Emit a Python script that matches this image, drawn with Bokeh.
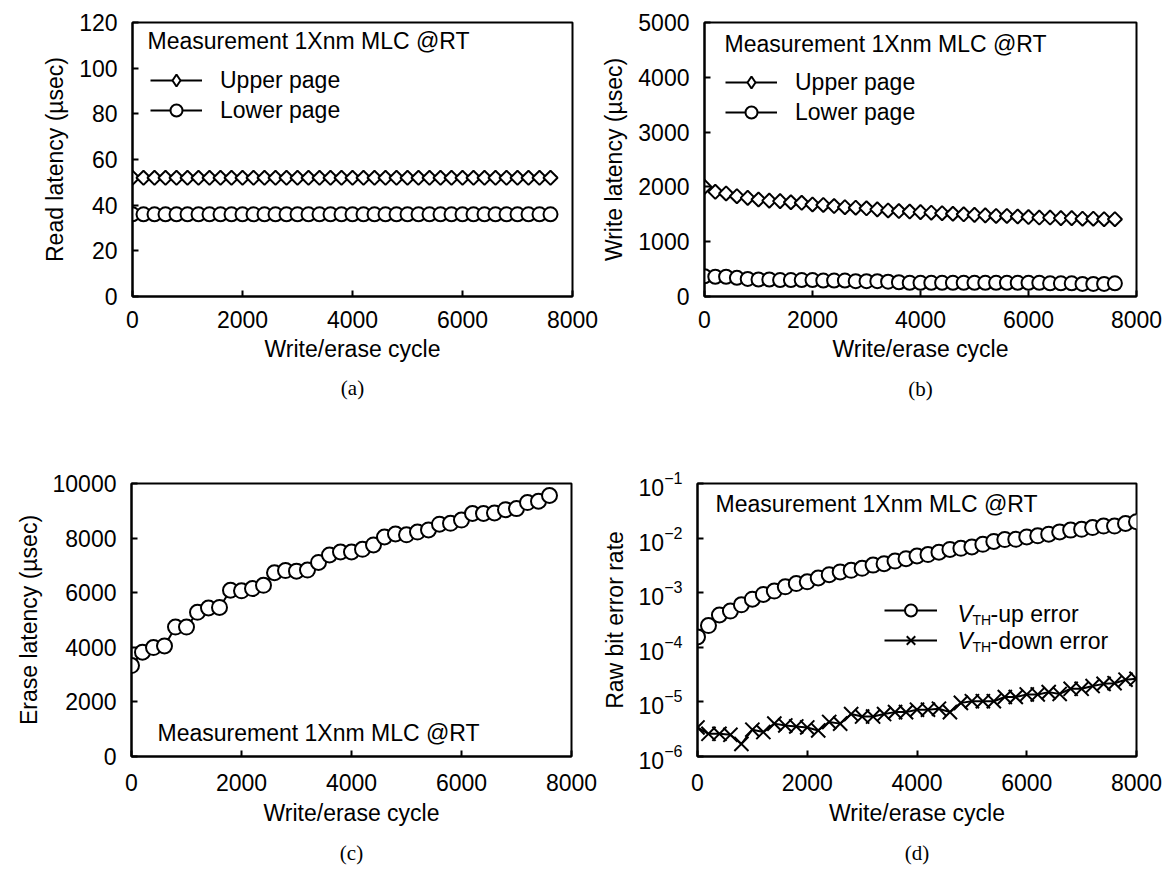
import math
from bokeh.plotting import figure
from bokeh.layouts import row, column
from bokeh.models import Range1d, FixedTicker, Label, Legend, LegendItem, Title
from bokeh.embed import file_html
from bokeh.resources import INLINE

FONT = "Liberation Sans"
SERIF = "Liberation Serif"
FS = "23px"

# ---------------- data ----------------
cycles = [0, 200, 400, 600, 800, 1000, 1200, 1400, 1600, 1800, 2000, 2200, 2400, 2600,
          2800, 3000, 3200, 3400, 3600, 3800, 4000, 4200, 4400, 4600, 4800, 5000, 5200,
          5400, 5600, 5800, 6000, 6200, 6400, 6600, 6800, 7000, 7200, 7400, 7600]
cycles_d = cycles + [7800, 8000]
x_ticks = [0, 2000, 4000, 6000, 8000]

read_upper = [52, 52, 52, 52, 52, 52, 52, 52, 52, 52, 52, 52, 52, 52, 52, 52, 52, 52, 52, 52,
              52, 52, 52, 52, 52, 52, 52, 52, 52, 52, 52, 52, 52, 52, 52, 52, 52, 52, 52]
read_lower = [36, 36, 36, 36, 36, 36, 36, 36, 36, 36, 36, 36, 36, 36, 36, 36, 36, 36, 36, 36,
              36, 36, 36, 36, 36, 36, 36, 36, 36, 36, 36, 36, 36, 36, 36, 36, 36, 36, 36]
read_ticks = [0, 20, 40, 60, 80, 100, 120]

write_upper = [2000, 1910, 1880, 1830, 1800, 1770, 1750, 1740, 1720, 1710, 1680, 1670, 1650,
               1630, 1620, 1610, 1590, 1570, 1560, 1550, 1540, 1530, 1520, 1510, 1500, 1490,
               1480, 1470, 1470, 1460, 1450, 1440, 1440, 1430, 1430, 1420, 1420, 1410, 1410]
write_lower = [370, 360, 360, 340, 320, 310, 310, 300, 300, 300, 300, 290, 290, 290, 280, 280,
               280, 270, 260, 250, 250, 250, 250, 250, 250, 250, 250, 250, 250, 250, 250, 250,
               240, 240, 240, 230, 230, 230, 240]
write_ticks = [0, 1000, 2000, 3000, 4000, 5000]

erase_lat = [3330, 3820, 3990, 4050, 4740, 4740, 5280, 5440, 5460, 6090, 6070, 6150, 6270,
             6730, 6810, 6790, 6830, 7110, 7380, 7490, 7490, 7590, 7750, 8040, 8150, 8120,
             8220, 8300, 8510, 8540, 8660, 8900, 8900, 8920, 9040, 9080, 9300, 9350, 9560]
erase_ticks = [0, 2000, 4000, 6000, 8000, 10000]

vth_up = [1.55e-4, 2.5e-4, 3.9e-4, 4.6e-4, 6.0e-4, 7.6e-4, 9.3e-4, 1.07e-3, 1.28e-3, 1.47e-3,
          1.58e-3, 1.86e-3, 2.14e-3, 2.4e-3, 2.57e-3, 2.8e-3, 3.2e-3, 3.4e-3, 3.8e-3, 4.2e-3,
          4.7e-3, 5.0e-3, 5.5e-3, 6.2e-3, 6.5e-3, 6.9e-3, 7.7e-3, 8.7e-3, 9.4e-3, 9.5e-3,
          1.05e-2, 1.1e-2, 1.18e-2, 1.3e-2, 1.4e-2, 1.45e-2, 1.56e-2, 1.66e-2, 1.66e-2,
          1.85e-2, 2.0e-2]
vth_down = [3.4e-6, 2.6e-6, 2.6e-6, 2.5e-6, 1.7e-6, 3.1e-6, 2.8e-6, 4.0e-6, 3.7e-6, 3.55e-6,
            3.4e-6, 3.0e-6, 4.3e-6, 4.0e-6, 6.0e-6, 5.4e-6, 5.4e-6, 6.0e-6, 6.5e-6, 6.5e-6,
            7.2e-6, 7.2e-6, 7.5e-6, 6.5e-6, 9.6e-6, 1.03e-5, 1.03e-5, 1.03e-5, 1.23e-5, 1.23e-5,
            1.37e-5, 1.37e-5, 1.51e-5, 1.4e-5, 1.74e-5, 1.74e-5, 1.95e-5, 2.14e-5, 2.2e-5,
            2.55e-5, 2.65e-5]
ber_ticks = [1e-6, 1e-5, 1e-4, 1e-3, 1e-2, 1e-1]

note_text = "Measurement 1Xnm MLC @RT"
NAN = float("nan")


def make_fig(w, h, bl, br, bt, bb, y_range, y_ticks, y_label, y_type="linear",
             xl_standoff=14, xa_standoff=5):
    p = figure(width=w, height=h, output_backend="svg", toolbar_location=None,
               x_range=Range1d(0, 8000), y_range=y_range, y_axis_type=y_type,
               min_border_left=bl, min_border_right=br, min_border_top=bt,
               min_border_bottom=bb, title=None)
    p.xgrid.visible = False
    p.ygrid.visible = False
    p.outline_line_color = "black"
    p.outline_line_width = 2
    p.outline_line_alpha = 1
    p.background_fill_color = "white"
    p.border_fill_color = "white"
    for ax in (p.xaxis[0], p.yaxis[0]):
        ax.axis_line_width = 2
        ax.axis_line_color = "black"
        ax.major_tick_in = 6
        ax.major_tick_out = 0
        ax.major_tick_line_width = 2
        ax.major_tick_line_color = "black"
        ax.minor_tick_line_color = None
        ax.major_label_text_font = FONT
        ax.major_label_text_font_size = FS
        ax.major_label_text_color = "black"
        ax.axis_label_text_font = FONT
        ax.axis_label_text_font_size = FS
        ax.axis_label_text_font_style = "normal"
        ax.axis_label_text_color = "black"
    p.xaxis.ticker = FixedTicker(ticks=x_ticks)
    p.yaxis.ticker = FixedTicker(ticks=y_ticks)
    p.xaxis.axis_label = "Write/erase cycle"
    p.yaxis.axis_label = y_label
    p.xaxis.major_label_standoff = xl_standoff
    p.xaxis.axis_label_standoff = xa_standoff
    p.yaxis.major_label_standoff = 15
    p.yaxis.axis_label_standoff = 8
    return p


def series(p, x, y, marker, size, angle=0.0):
    lr = p.line(x, y, line_color="black", line_width=2)
    sr = p.scatter(x, y, marker=marker, size=size, angle=angle, fill_color="white",
                   line_color="black", line_width=2)
    return [lr, sr]


def diamond_proxy(p):
    # legend-only glyph (draws nothing in the plot area)
    return p.scatter([NAN], [NAN], marker="diamond", size=15, fill_color="white",
                     line_color="black", line_width=2)


def note(p, x, y):
    p.add_layout(Label(x=x, y=y, x_units="screen", y_units="screen", text=note_text,
                       text_font=FONT, text_font_size=FS, text_color="black",
                       text_baseline="middle", text_align="left"))


def caption(p, txt, standoff):
    p.add_layout(Title(text=txt, align="center", standoff=standoff, text_font=SERIF,
                       text_font_size="21px", text_font_style="normal",
                       text_color="black"), "below")


def legend(p, items, loc, gh, spacing, gw=52, standoff=18):
    lg = Legend(items=items, location=loc, orientation="vertical", padding=0, margin=0,
                spacing=spacing, glyph_width=gw, glyph_height=gh, label_standoff=standoff,
                label_height=gh, label_text_font=FONT, label_text_font_size=FS,
                label_text_color="black", border_line_color=None,
                background_fill_alpha=0)
    p.add_layout(lg)


DIAMOND = math.pi / 4

# ---------------- (a) read latency ----------------
fa = make_fig(598, 440, 132, 26, 22, 141, Range1d(0, 120), read_ticks, "Read latency (µsec)")
ra_u = series(fa, cycles, read_upper, "square", 10, DIAMOND)
ra_l = series(fa, cycles, read_lower, "circle", 14)
legend(fa, [LegendItem(label="Upper page", renderers=[ra_u[0], diamond_proxy(fa)]),
            LegendItem(label="Lower page", renderers=ra_l)], (18, 171), 30, -5)
note(fa, 15, 256)
caption(fa, "(a)", 18)

# ---------------- (b) write latency ----------------
fb = make_fig(571, 440, 99, 33, 21, 144, Range1d(0, 5000), write_ticks, "Write latency (µsec)")
rb_u = series(fb, cycles, write_upper, "square", 10, DIAMOND)
rb_l = series(fb, cycles, write_lower, "circle", 14)
legend(fb, [LegendItem(label="Upper page", renderers=[rb_u[0], diamond_proxy(fb)]),
            LegendItem(label="Lower page", renderers=rb_l)], (21, 169), 30, -6)
note(fb, 20, 253)
caption(fb, "(b)", 21)

# ---------------- (c) erase latency ----------------
fc = make_fig(598, 443, 131, 27, 42, 121, Range1d(0, 10000), erase_ticks, "Erase latency (µsec)",
              xl_standoff=17, xa_standoff=6)
series(fc, cycles, erase_lat, "circle", 15)
note(fc, 26, 24)
caption(fc, "(c)", 20)

# ---------------- (d) raw bit error rate ----------------
fd = make_fig(571, 443, 99, 33, 43, 127, Range1d(1e-6, 1e-1), ber_ticks, "Raw bit error rate",
              y_type="log", xl_standoff=17, xa_standoff=6)
rd_u = series(fd, cycles_d, vth_up, "circle", 15)
rd_d = series(fd, cycles_d, vth_down, "x", 20)
legend(fd, [LegendItem(label=" ", renderers=rd_u),
            LegendItem(label=" ", renderers=rd_d)], (187, 101), 30, -3, 53, 4)
note(fd, 18, 253)
caption(fd, "(d)", 20)

# legend texts with subscript (V_TH)
for yy, tail in ((143, "-up error"), (116, "-down error")):
    fd.add_layout(Label(x=260, y=yy, x_units="screen", y_units="screen", text="V",
                        text_font=FONT, text_font_size=FS, text_font_style="italic",
                        text_color="black", text_baseline="middle"))
    fd.add_layout(Label(x=275, y=yy - 6, x_units="screen", y_units="screen", text="TH",
                        text_font=FONT, text_font_size="14px", text_color="black",
                        text_baseline="middle"))
    fd.add_layout(Label(x=293, y=yy, x_units="screen", y_units="screen", text=tail,
                        text_font=FONT, text_font_size=FS, text_color="black",
                        text_baseline="middle"))

layout = column(row(fa, fb), row(fc, fd))
open("out.html", "w").write(file_html(layout, INLINE))
